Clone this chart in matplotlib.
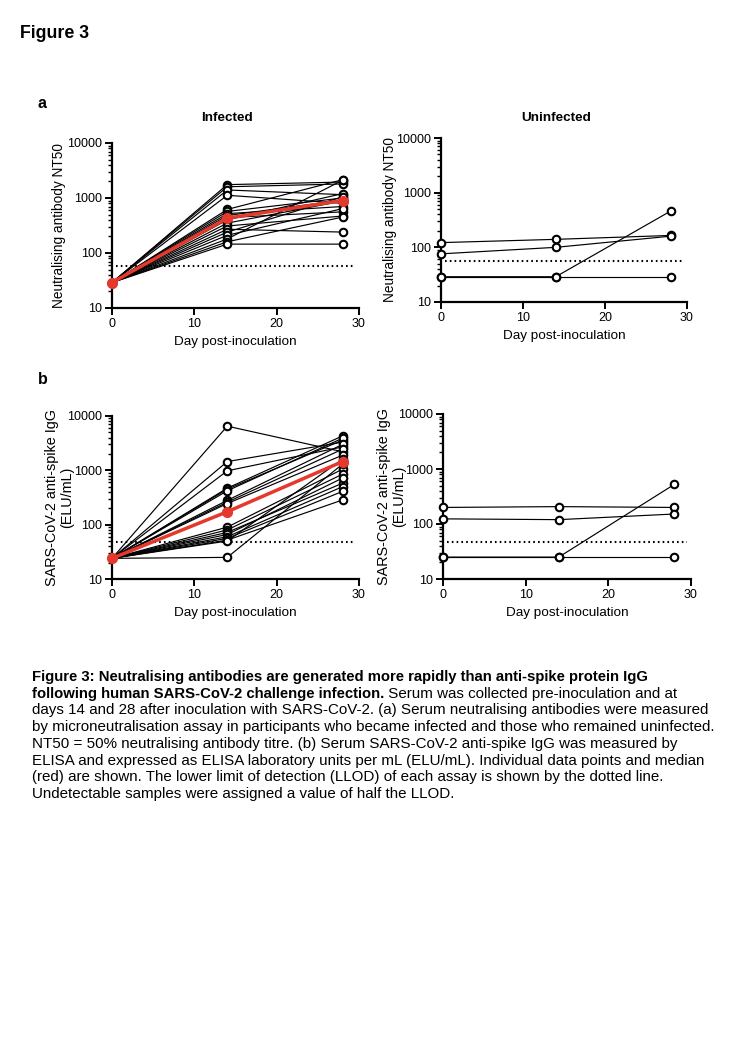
import matplotlib
matplotlib.use('Agg')
import matplotlib.pyplot as plt
from matplotlib.ticker import LogLocator, NullFormatter

plt.rcParams['font.family'] = ['Liberation Sans', 'DejaVu Sans']

days = [0, 14, 28]
y_ticks = [10, 100, 1000, 10000]
y_tick_labels = ['10', '100', '1000', '10000']
x_ticks = [0, 10, 20, 30]

# ---- Panel a: neutralising antibody NT50 ----
nt50_llod = 57
nt50_inf_d0 = [29, 29, 29, 29, 29, 29, 29, 29, 29, 29, 29, 29, 29, 29, 29, 29, 29, 29]
nt50_inf_d14 = [1750, 1600, 1400, 1120, 620, 570, 520, 480, 440, 400, 350, 310, 270, 240, 210, 180, 160, 145]
nt50_inf_d28 = [1950, 1800, 1150, 800, 2150, 1000, 700, 920, 560, 1200, 880, 470, 240, 1050, 640, 2100, 450, 145]
nt50_inf_median = [29, 430, 900]
nt50_uninf_d0 = [122, 76, 29, 29]
nt50_uninf_d14 = [140, 100, 29, 29]
nt50_uninf_d28 = [165, 160, 460, 29]

# ---- Panel b: anti-spike IgG ----
igg_llod = 48
igg_inf_d0 = [24, 24, 24, 24, 24, 24, 24, 24, 24, 24, 24, 24, 24, 24, 24, 24, 24, 24]
igg_inf_d14 = [6500, 1450, 980, 470, 450, 420, 280, 260, 245, 90, 80, 72, 66, 60, 56, 52, 50, 25]
igg_inf_d28 = [2200, 3300, 2700, 4300, 3600, 3900, 3000, 2450, 1900, 1050, 850, 580, 720, 500, 410, 285, 1600, 1300]
igg_inf_median = [24, 173, 1450]
igg_uninf_d0 = [200, 124, 25, 25]
igg_uninf_d14 = [207, 120, 25, 25]
igg_uninf_d28 = [200, 152, 527, 25]

ylabel_nt50 = ['Neutralising antibody NT50']
ylabel_igg = ['SARS-CoV-2 anti-spike IgG', '(ELU/mL)']

RED = '#e4392c'
W, H = 750, 1060

fig = plt.figure(figsize=(7.5, 10.6), dpi=100)


def ax_at(left, top, right, bottom):
    return fig.add_axes([left / W, 1 - bottom / H, (right - left) / W, (bottom - top) / H])


def panel(ax, d0, d14, d28, llod, median, ylabel_lines, ylab_xs, ylab_fs):
    for a, b, c in zip(d0, d14, d28):
        ax.plot(days, [a, b, c], color='black', lw=0.85, marker='o', ms=5.4,
                mfc='white', mec='black', mew=1.5, clip_on=False, zorder=3)
    if median is not None:
        ax.plot(days, median, color=RED, lw=2.5, marker='o', ms=7,
                mfc=RED, mec=RED, clip_on=False, zorder=5)
    ax.plot([0.5, 29.5], [llod, llod], color='black', lw=1.5,
            ls=(0, (0.8, 1.5)), zorder=2)
    ax.set_yscale('log')
    ax.set_ylim(10, 10000)
    ax.set_xlim(0, 30)
    ax.set_yticks(y_ticks)
    ax.set_yticklabels(y_tick_labels)
    ax.yaxis.set_minor_locator(LogLocator(base=10, subs=[2, 3, 4, 5, 6, 7, 8, 9]))
    ax.yaxis.set_minor_formatter(NullFormatter())
    ax.set_xticks(x_ticks)
    ax.tick_params(which='major', direction='out', length=5, width=1.4,
                   labelsize=9, pad=2.5, colors='black')
    ax.tick_params(which='minor', direction='out', length=3, width=1.0)
    for s in ('top', 'right'):
        ax.spines[s].set_visible(False)
    for s in ('left', 'bottom'):
        ax.spines[s].set_linewidth(1.6)
    ax.patch.set_alpha(0)
    ax.set_xlabel('Day post-inoculation', fontsize=9.7, labelpad=4)
    for txt, xpos in zip(ylabel_lines, ylab_xs):
        ax.text(xpos, 0.5, txt, transform=ax.transAxes, rotation=90,
                ha='center', va='center', fontsize=ylab_fs)


ax1 = ax_at(112, 143, 359, 308)
panel(ax1, nt50_inf_d0, nt50_inf_d14, nt50_inf_d28, nt50_llod, nt50_inf_median,
      ylabel_nt50, [(59 - 112) / 247], 9.8)
ax2 = ax_at(441, 138, 687, 302)
panel(ax2, nt50_uninf_d0, nt50_uninf_d14, nt50_uninf_d28, nt50_llod, None,
      ylabel_nt50, [(390 - 441) / 246], 9.8)
ax3 = ax_at(112, 416, 359, 579)
panel(ax3, igg_inf_d0, igg_inf_d14, igg_inf_d28, igg_llod, igg_inf_median,
      ylabel_igg, [(52 - 112) / 247, (67 - 112) / 247], 10.4)
ax4 = ax_at(443, 414, 691, 579)
panel(ax4, igg_uninf_d0, igg_uninf_d14, igg_uninf_d28, igg_llod, None,
      ylabel_igg, [(384 - 443) / 248, (399 - 443) / 248], 10.4)


def ftext(x, y, s, **kw):
    return fig.text(x / W, 1 - y / H, s, **kw)


ftext(20, 33, 'Figure 3', fontsize=12.8, fontweight='bold', va='center', ha='left')
ftext(38, 104, 'a', fontsize=11.5, fontweight='bold', va='center', ha='left')
ftext(38, 380, 'b', fontsize=11.5, fontweight='bold', va='center', ha='left')
ftext(227, 118, 'Infected', fontsize=9.7, fontweight='bold', va='center', ha='center')
ftext(556, 118, 'Uninfected', fontsize=9.7, fontweight='bold', va='center', ha='center')

caption_lines = [
    [("Figure 3: Neutralising antibodies are generated more rapidly than anti-spike protein IgG", 'bold')],
    [("following human SARS-CoV-2 challenge infection.", 'bold'),
     (" Serum was collected pre-inoculation and at", 'normal')],
    [("days 14 and 28 after inoculation with SARS-CoV-2. (a) Serum neutralising antibodies were measured", 'normal')],
    [("by microneutralisation assay in participants who became infected and those who remained uninfected.", 'normal')],
    [("NT50 = 50% neutralising antibody titre. (b) Serum SARS-CoV-2 anti-spike IgG was measured by", 'normal')],
    [("ELISA and expressed as ELISA laboratory units per mL (ELU/mL). Individual data points and median", 'normal')],
    [("(red) are shown. The lower limit of detection (LLOD) of each assay is shown by the dotted line.", 'normal')],
    [("Undetectable samples were assigned a value of half the LLOD.", 'normal')],
]
cap_sizes = {'bold': 10.7, 'normal': 10.9}
renderer = fig.canvas.get_renderer()
y0 = 677
for i, parts in enumerate(caption_lines):
    x = 32
    y = y0 + i * 16.7
    for txt, wt in parts:
        t = ftext(x, y, txt, fontsize=cap_sizes[wt], fontweight=wt, va='center', ha='left')
        bb = t.get_window_extent(renderer=renderer)
        x += bb.width

fig.savefig('out.png', dpi=100, facecolor='white')
